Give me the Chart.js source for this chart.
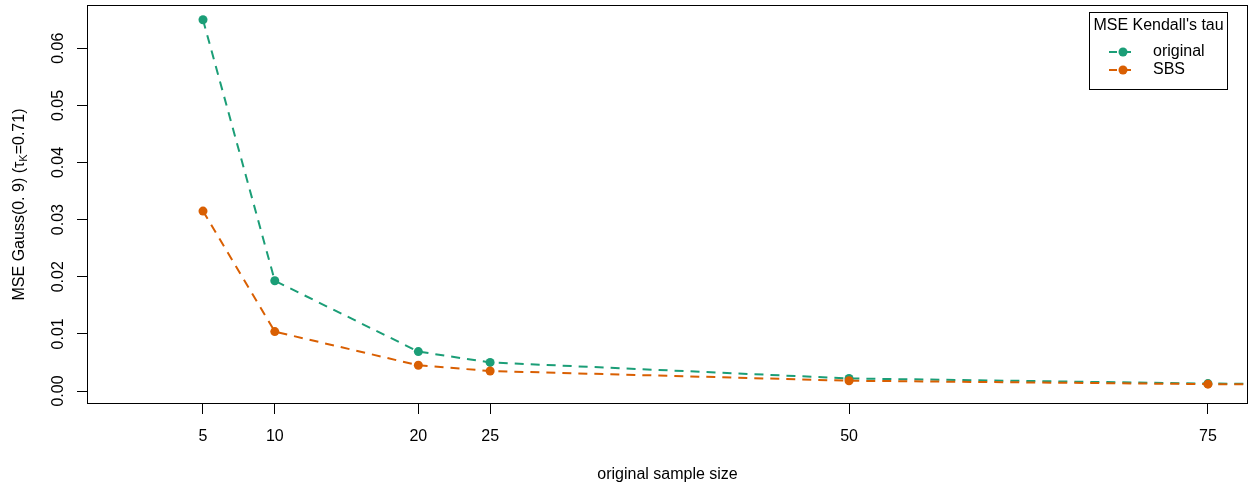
<!DOCTYPE html>
<html>
<head>
<meta charset="utf-8">
<script src="https://cdn.jsdelivr.net/npm/chart.js@4.4.1/dist/chart.umd.min.js"></script>
<style>
html, body { margin: 0; padding: 0; background: #fff; }
</style>
</head>
<body>
<canvas id="myChart" width="1253" height="487"></canvas>
<script>
// sample sizes (last one lies outside the visible x range, line runs off the edge)
const sampleSizes = [5, 10, 20, 25, 50, 75, 100]
const mseOriginal = [0.0650, 0.0193, 0.0069, 0.0050, 0.0022, 0.0013, 0.0010]
const mseSBS = [0.0315, 0.0104, 0.0045, 0.0035, 0.0018, 0.0012, 0.0009]
const xTickValues = [5, 10, 20, 25, 50, 75]
const yTickValues = [0, 0.01, 0.02, 0.03, 0.04, 0.05, 0.06]
const seriesNames = ['original', 'SBS']
const seriesColors = ['#1B9E77', '#D95F02']

const FONT = '"Liberation Sans", Arial, Helvetica, sans-serif'
const FS = 16
Chart.defaults.font.family = FONT
Chart.defaults.font.size = FS
Chart.defaults.color = '#000'

function toPoints(xs, ys)
{
    return xs.map((x, i) => ({ x: x, y: ys[i] }))
}

// R-like extras: box, rotated y labels, axis titles, legend
const rStylePlugin = {
    id: 'rStyle',
    afterDraw(chart)
    {
        const ctx = chart.ctx
        const area = chart.chartArea
        const yScale = chart.scales.y
        ctx.save()

        // box around plot
        ctx.strokeStyle = '#000'
        ctx.lineWidth = 1
        ctx.setLineDash([])
        ctx.strokeRect(Math.round(area.left) + 0.5, Math.round(area.top) + 0.5,
            Math.round(area.right - area.left) - 1, Math.round(area.bottom - area.top) - 1)

        // y tick labels, rotated like R's las=0
        ctx.fillStyle = '#000'
        ctx.font = FS + 'px ' + FONT
        ctx.textAlign = 'center'
        ctx.textBaseline = 'middle'
        yScale.ticks.forEach(t => {
            let py = yScale.getPixelForValue(t.value)
            ctx.save()
            ctx.translate(59, py)
            ctx.rotate(-Math.PI / 2)
            ctx.fillText(t.value.toFixed(2), 0, 0)
            ctx.restore()
        })

        // y axis title with subscript
        let cy = (area.top + area.bottom) / 2
        ctx.save()
        ctx.translate(20, cy)
        ctx.rotate(-Math.PI / 2)
        let part1 = 'MSE Gauss(0. 9) (\u03C4'
        let sub = 'K'
        let part2 = '=0.71)'
        ctx.font = FS + 'px ' + FONT
        let w1 = ctx.measureText(part1).width
        let w3 = ctx.measureText(part2).width
        ctx.font = '11px ' + FONT
        let w2 = ctx.measureText(sub).width
        let start = -(w1 + w2 + w3) / 2
        ctx.textAlign = 'left'
        ctx.textBaseline = 'middle'
        ctx.font = FS + 'px ' + FONT
        ctx.fillText(part1, start, 0)
        ctx.font = '11px ' + FONT
        ctx.fillText(sub, start + w1, 4)
        ctx.font = FS + 'px ' + FONT
        ctx.fillText(part2, start + w1 + w2, 0)
        ctx.restore()

        // x axis title
        ctx.textAlign = 'center'
        ctx.textBaseline = 'middle'
        ctx.fillText('original sample size', (area.left + area.right) / 2, 475)

        // legend
        let lx = 1089.5, ly = 12.5, lw = 138, lh = 77
        ctx.fillStyle = '#fff'
        ctx.fillRect(lx, ly, lw, lh)
        ctx.strokeStyle = '#000'
        ctx.strokeRect(lx, ly, lw, lh)
        ctx.fillStyle = '#000'
        ctx.fillText("MSE Kendall's tau", lx + lw / 2, 26)
        seriesNames.forEach((name, i) => {
            let ey = 52 + i * 18
            ctx.strokeStyle = seriesColors[i]
            ctx.lineWidth = 2
            ctx.setLineDash([8, 6])
            ctx.beginPath()
            ctx.moveTo(1109, ey)
            ctx.lineTo(1137, ey)
            ctx.stroke()
            ctx.setLineDash([])
            ctx.fillStyle = seriesColors[i]
            ctx.beginPath()
            ctx.arc(1123, ey, 4.5, 0, Math.PI * 2)
            ctx.fill()
            ctx.fillStyle = '#000'
            ctx.textAlign = 'left'
            ctx.fillText(name, 1153, ey)
            ctx.textAlign = 'center'
        })
        ctx.restore()
    }
}

let datasets = [mseOriginal, mseSBS].map((values, i) => ({
    label: seriesNames[i],
    data: toPoints(sampleSizes, values),
    borderColor: seriesColors[i],
    backgroundColor: seriesColors[i],
    borderWidth: 2,
    borderDash: [9, 7],
    pointRadius: 4.5,
    pointBorderWidth: 0,
    pointBackgroundColor: seriesColors[i],
    tension: 0,
    clip: 0,
    order: 1 - i
}))

let config = {
    type: 'line',
    data: { datasets: datasets },
    options: {
        responsive: false,
        animation: false,
        devicePixelRatio: 1,
        layout: { padding: { top: 5, right: 5, left: 0, bottom: 0 } },
        plugins: {
            legend: { display: false },
            tooltip: { enabled: false }
        },
        scales: {
            x: {
                type: 'linear',
                min: -3.08,
                max: 77.79,
                afterBuildTicks: (scale) => { scale.ticks = xTickValues.map(v => ({ value: v })) },
                afterFit: (scale) => { scale.height = 83 },
                border: { display: false },
                grid: {
                    drawOnChartArea: false,
                    drawTicks: true,
                    tickLength: 10,
                    tickColor: '#000',
                    tickWidth: 1
                },
                ticks: {
                    color: '#000',
                    padding: 13,
                    maxRotation: 0,
                    autoSkip: false,
                    callback: (v) => String(v)
                }
            },
            y: {
                type: 'linear',
                min: -0.002276,
                max: 0.06758,
                afterBuildTicks: (scale) => { scale.ticks = yTickValues.map(v => ({ value: v })) },
                afterFit: (scale) => { scale.width = 87 },
                border: { display: false },
                grid: {
                    drawOnChartArea: false,
                    drawTicks: true,
                    tickLength: 10,
                    tickColor: '#000',
                    tickWidth: 1
                },
                ticks: {
                    display: false,
                    autoSkip: false
                }
            }
        }
    },
    plugins: [rStylePlugin]
}

const chart = new Chart(document.getElementById('myChart'), config)
</script>
</body>
</html>
